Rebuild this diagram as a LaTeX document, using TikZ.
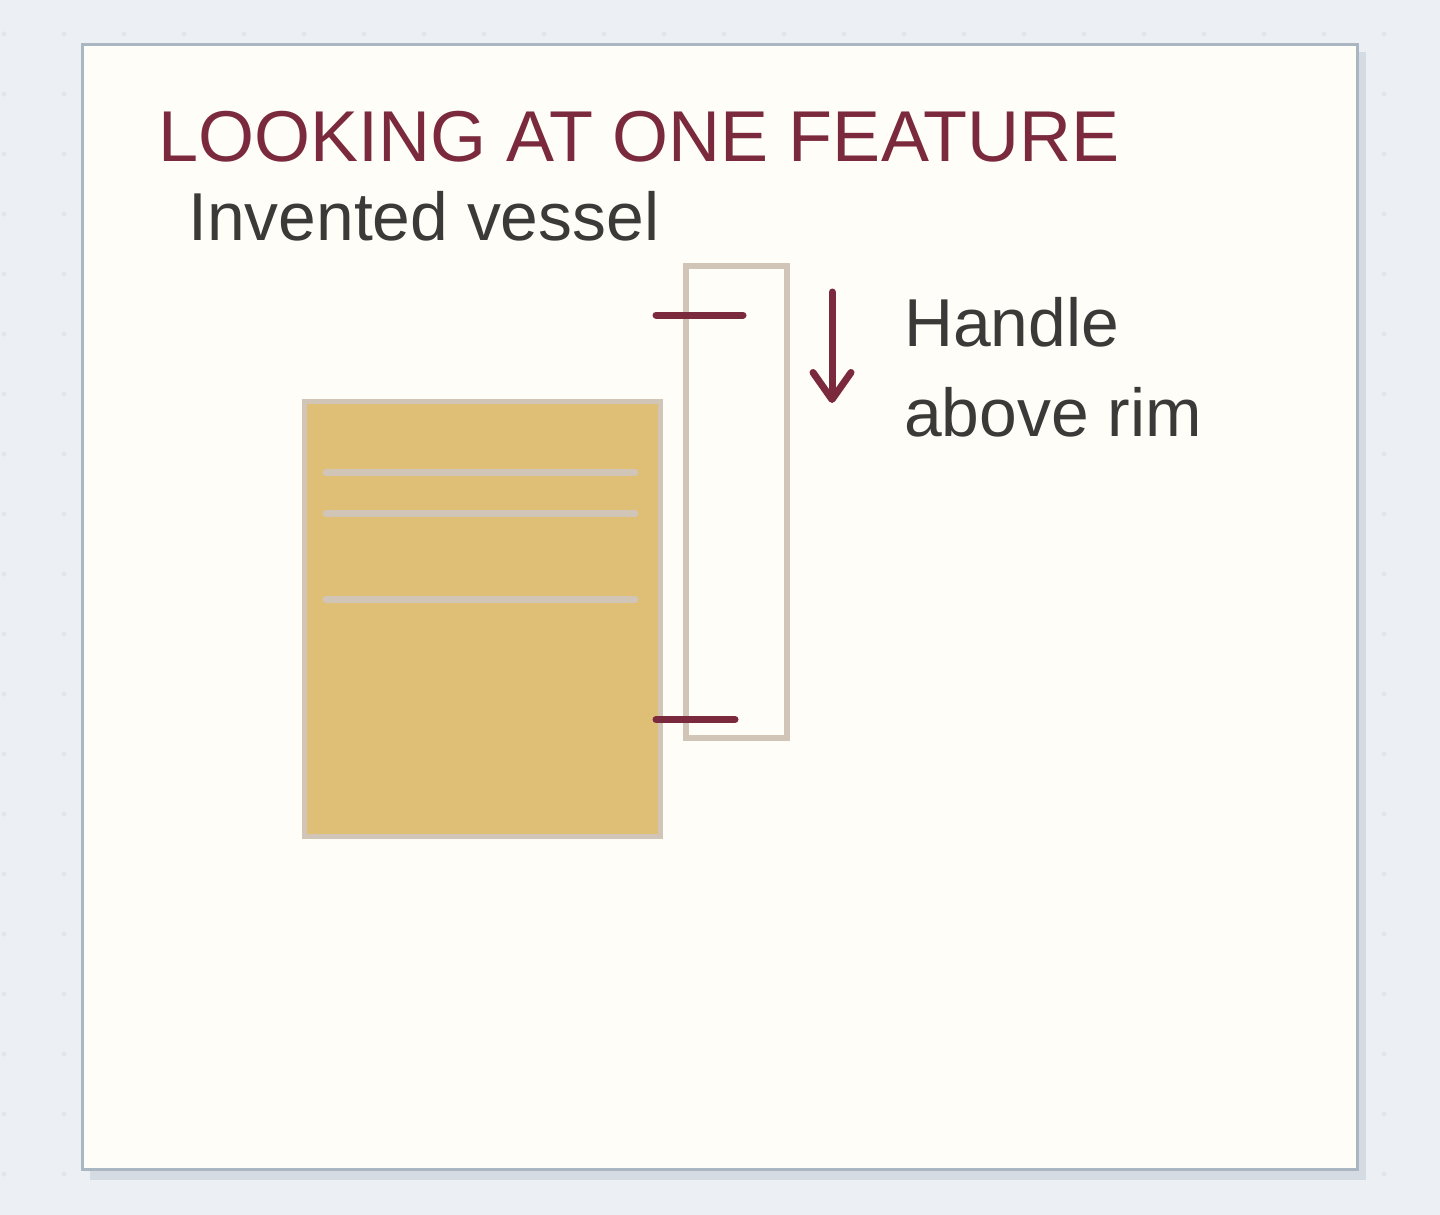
\documentclass[tikz,border=0pt]{standalone}
\usepackage{fontspec}
\setmainfont{Liberation Sans}
\usetikzlibrary{arrows.meta}
\definecolor{fond}{HTML}{ECF0F5}
\definecolor{point}{HTML}{E1E6EC}
\definecolor{carte}{HTML}{FFFDF7}
\definecolor{bord}{HTML}{AAB6C2}
\definecolor{ombre}{HTML}{D4DBE3}
\definecolor{bordeaux}{HTML}{7A2A3C}
\definecolor{encre}{HTML}{3B3A38}
\definecolor{ocre}{HTML}{DFBE75}
\definecolor{sable}{HTML}{D0C5B7}
\begin{document}
\begin{tikzpicture}[x=1pt, y=-1pt]
	\tikzset{titre/.style={anchor=base west, inner sep=0pt, text=bordeaux, font=\fontsize{72}{86}\selectfont},
		texte/.style={anchor=base west, inner sep=0pt, text=encre, font=\fontsize{67.8}{90}\selectfont},
		trait/.style={draw=bordeaux, line width=7pt, line cap=round},
		rainure/.style={draw=sable, line width=7pt, line cap=round},
		fleche/.style={trait, line join=round, -{Straight Barb[length=27pt, width=38pt, line cap=round, line join=round]}}};
	\useasboundingbox (0,0) rectangle (1440,1215);
	\fill[fond] (0,0) rectangle (1440,1215);
	\foreach \x in {4,64,...,1444}
		\foreach \y in {34,94,...,1214}
			\fill[point] (\x,\y) circle (2.5);

	% carte
	\fill[ombre] (90,52) rectangle (1366,1180);
	\draw[bord, fill=carte, line width=3pt] (82,45) rectangle (1357,1169);

	\node[titre] (titre) at (158,161) {LOOKING AT ONE FEATURE};
	\node[texte] (sous) at (188,240) {Invented vessel};

	% vase
	\draw[sable, line width=6pt] (686,266) rectangle (787,738);
	\draw[sable, fill=ocre, line width=5pt] (304,401) rectangle (660,836);
	\draw[rainure] (326,472.5) -- (635,472.5);
	\draw[rainure] (326,513.5) -- (635,513.5);
	\draw[rainure] (326,599.5) -- (635,599.5);

	\coordinate (h1) at (656,315);
	\coordinate (h2) at (743,315);
	\coordinate (b1) at (656,719.5);
	\coordinate (b2) at (735,719.5);
	\draw[trait] (h1) -- (h2);
	\draw[trait] (b1) -- (b2);

	% fleche et legende
	\coordinate (f1) at (832,292);
	\coordinate (f2) at (832,403);
	\draw[fleche] (f1) -- (f2);
	\node[texte] (anse) at (904,346) {Handle};
	\node[texte] (rim) at (904,436) {above rim};
\end{tikzpicture}
\end{document}
